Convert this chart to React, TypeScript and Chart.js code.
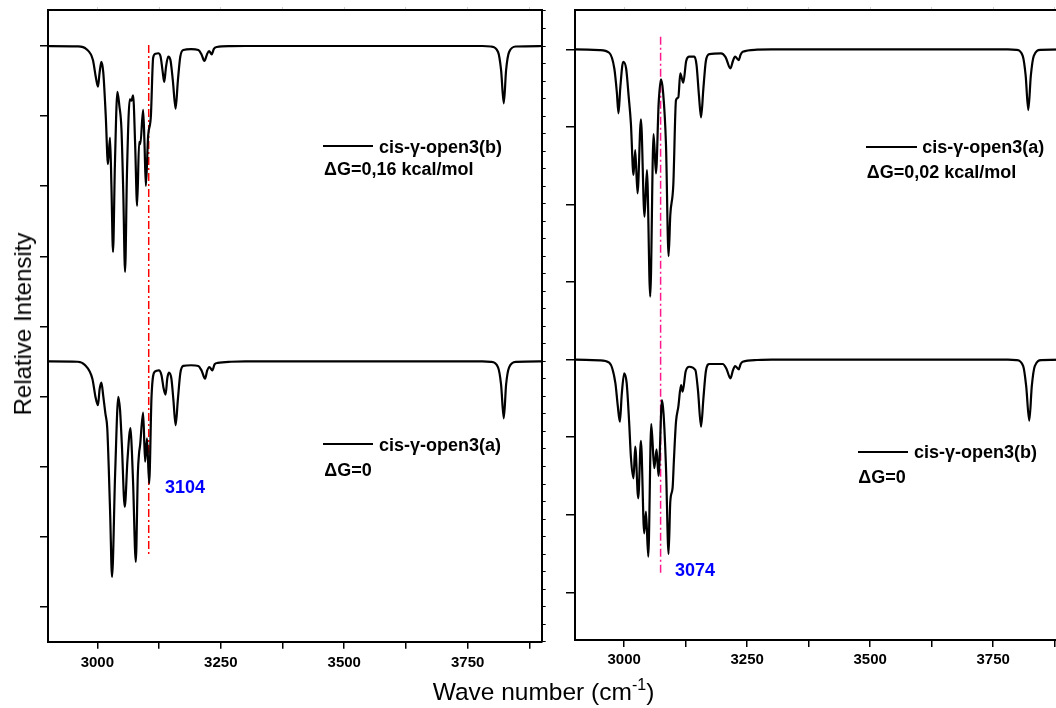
import React, { useEffect, useRef } from 'react';
import { Chart, registerables } from 'chart.js';

Chart.register(...registerables);

const FONT = '"Liberation Sans", Arial, Helvetica, sans-serif';

// ---------- axes ----------
const xMin = 2900;
const xMax = 3900;
const xTickValues = [3000, 3125, 3250, 3375, 3500, 3625, 3750, 3875];
const xTickLabels = [3000, 3250, 3500, 3750];

const leftYMin = -0.5;
const leftYMax = 8.514;
const leftYTicks = [0, 1, 2, 3, 4, 5, 6, 7, 8];
const leftYMinorTicks = [
  -0.5, -0.25, 0, 0.25, 0.5, 0.75, 1, 1.25, 1.5, 1.75, 2, 2.25, 2.5, 2.75, 3, 3.25, 3.5, 3.75,
  4, 4.25, 4.5, 4.75, 5, 5.25, 5.5, 5.75, 6, 6.25, 6.5, 6.75, 7, 7.25, 7.5, 7.75, 8, 8.25, 8.5,
];

const rightYMin = 0.385;
const rightYMax = 8.507;
const rightYTicks = [1, 2, 3, 4, 5, 6, 7, 8];

// ---------- spectra: [wave number, relative intensity] ----------
const leftTop = [
  [2900, 8.0], [2960, 7.995], [2978, 7.955], [2991, 7.8], [2997, 7.55], [3001.2, 7.42],
  [3004.5, 7.62], [3008.1, 7.773], [3012, 7.62], [3017, 7.0], [3021.5, 6.313], [3025.6, 6.692],
  [3028.5, 6.0], [3031.7, 5.061], [3035.5, 6.3], [3040.6, 7.345], [3044.5, 7.15], [3048.8, 6.812],
  [3052.5, 5.9], [3056.1, 4.776], [3060, 6.2], [3065.6, 7.24], [3069, 7.22], [3072.4, 7.297],
  [3076.5, 6.6], [3080.5, 5.718], [3084.6, 6.631], [3087, 6.6], [3092.7, 7.088], [3095.5, 6.6],
  [3098.2, 6.003], [3102.8, 6.717], [3108.3, 6.99], [3113, 7.834], [3118, 7.89], [3123.2, 7.897],
  [3128, 7.85], [3132, 7.65], [3135.4, 7.487], [3139, 7.7], [3143.5, 7.848], [3148, 7.8],
  [3153, 7.5], [3158.5, 7.106], [3163, 7.5], [3168, 7.85], [3174, 7.944], [3190, 7.955],
  [3204.5, 7.944], [3211, 7.88], [3216.7, 7.787], [3222, 7.88], [3226.2, 7.929], [3231.7, 7.882],
  [3236, 7.96], [3241.9, 7.986], [3270, 7.998], [3300, 8.0], [3780, 8.0], [3797, 7.993],
  [3811.6, 7.915], [3817.7, 7.658], [3823.2, 7.183], [3827.9, 7.658], [3834, 7.915],
  [3848, 7.993], [3900, 8.0],
];

const leftBottom = [
  [2900, 3.5], [2960, 3.495], [2974.2, 3.453], [2990, 3.25], [2996, 3.0], [3001.2, 2.874],
  [3004.5, 3.1], [3008.1, 3.196], [3012, 3.0], [3016.3, 2.754], [3020, 2.55], [3023, 1.993],
  [3026, 1.3], [3029.7, 0.424], [3036, 1.9], [3042.5, 2.995], [3046, 2.8], [3049.5, 2.33],
  [3055.5, 1.425], [3061, 2.1], [3067.1, 2.548], [3070, 2.2], [3072.4, 1.76], [3077.8, 0.64],
  [3082, 1.9], [3084.6, 2.2], [3086.5, 2.3], [3092.7, 2.77], [3096.7, 2.068], [3100.5, 2.4],
  [3104.9, 1.76], [3109.7, 2.997], [3116.4, 3.354], [3124.6, 3.373], [3130, 3.3], [3134, 3.12],
  [3138.2, 3.025], [3141.5, 3.25], [3144.9, 3.339], [3150, 3.25], [3154, 2.95], [3158.5, 2.588],
  [3163, 2.95], [3168, 3.33], [3174, 3.435], [3190, 3.445], [3204.5, 3.435], [3211, 3.37],
  [3218.1, 3.253], [3222.5, 3.37], [3226.8, 3.42], [3232.9, 3.373], [3237.5, 3.46],
  [3243.9, 3.478], [3270, 3.495], [3300, 3.5], [3780, 3.5], [3797, 3.493], [3811.6, 3.415],
  [3817.7, 3.17], [3823.2, 2.688], [3827.9, 3.17], [3834, 3.415], [3848, 3.493], [3900, 3.5],
];

const rightTop = [
  [2900, 8.0], [2950, 7.99], [2969.5, 7.956], [2980, 7.75], [2985, 7.45], [2988.4, 7.175],
  [2992, 7.5], [2998, 7.84], [3004, 7.75], [3009, 7.4], [3013.6, 7.046], [3018.9, 6.38],
  [3022.4, 6.702], [3027.1, 6.144], [3034, 7.098], [3041.3, 5.842], [3046.2, 6.444],
  [3052.9, 4.811], [3059.7, 6.908], [3064.6, 6.401], [3070, 7.3], [3074.7, 7.613], [3079, 7.45],
  [3084.9, 6.78], [3090.2, 5.335], [3093.7, 5.864], [3099.8, 6.25], [3105.3, 7.346],
  [3110, 7.381], [3114, 7.691], [3120.1, 7.57], [3126, 7.85], [3132.4, 7.905], [3142.5, 7.905],
  [3147, 7.8], [3152, 7.4], [3156.2, 7.123], [3161, 7.5], [3166, 7.85], [3173.1, 7.939],
  [3196.9, 7.948], [3206, 7.9], [3215.9, 7.755], [3221, 7.85], [3225.4, 7.905], [3232.8, 7.862],
  [3236.5, 7.93], [3240.9, 7.969], [3270, 7.995], [3300, 8.0], [3780, 8.0], [3797, 7.993],
  [3810, 7.915], [3816, 7.66], [3821.3, 7.217], [3826.5, 7.66], [3832.5, 7.915], [3846, 7.993],
  [3900, 8.0],
];

const rightBottom = [
  [2900, 4.0], [2950, 3.99], [2969.5, 3.96], [2982, 3.7], [2987, 3.4], [2991.2, 3.199],
  [2995, 3.55], [3000, 3.823], [3005, 3.7], [3010, 3.2], [3013.6, 2.748], [3018.9, 2.469],
  [3022.4, 2.877], [3028.5, 2.212], [3034, 2.954], [3040.7, 1.76], [3044.2, 2.039],
  [3048.9, 1.459], [3055, 3.17], [3061.1, 2.599], [3065.8, 2.843], [3069.8, 2.499],
  [3076.8, 3.479], [3080, 3.3], [3084.9, 2.619], [3090.2, 1.494], [3093.7, 2.17],
  [3098.4, 2.35], [3101, 2.7], [3105.3, 3.2], [3110, 3.39], [3115.5, 3.672], [3118.7, 3.586],
  [3125, 3.85], [3132.4, 3.908], [3144.6, 3.866], [3150, 3.6], [3156.2, 3.135], [3161, 3.5],
  [3166, 3.85], [3173.1, 3.943], [3200.2, 3.943], [3208, 3.88], [3215.9, 3.759], [3221, 3.86],
  [3225.4, 3.917], [3232.8, 3.875], [3236.5, 3.94], [3240.9, 3.973], [3270, 3.995], [3300, 4.0],
  [3780, 4.0], [3797, 3.993], [3811, 3.915], [3817, 3.66], [3823.3, 3.212], [3828.5, 3.66],
  [3834.5, 3.915], [3848, 3.993], [3900, 4.0],
];

// marker lines: [wave number, y start, y end]
const leftMarker = [3104, 8.015, 0.738];
const rightMarker = [3074, 8.162, 1.223];

// ---------- helpers ----------
const spectrumDataset = (pts: number[][]) => ({
  data: pts.map(([x, y]) => ({ x, y })),
  borderColor: '#000',
  borderWidth: 2.2,
  pointRadius: 0,
  fill: false,
  cubicInterpolationMode: 'monotone' as const,
});

const markerDataset = (m: number[], color: string) => ({
  data: [
    { x: m[0], y: m[1] },
    { x: m[0], y: m[2] },
  ],
  borderColor: color,
  borderWidth: 1.5,
  borderDash: [8, 3, 2, 3],
  pointRadius: 0,
  fill: false,
});

const tickFont = { family: FONT, size: 15, weight: 'bold' as const };

function buildScales(p: {
  yMin: number;
  yMax: number;
  yTicks: number[];
  yTickLen: number;
  xHeight: number;
  xPad: number;
  yMinor?: number[];
}) {
  const scales: any = {
    x: {
      type: 'linear',
      position: 'bottom',
      min: xMin,
      max: xMax,
      afterBuildTicks: (s: any) => {
        s.ticks = xTickValues.map((v) => ({ value: v }));
      },
      afterFit: (s: any) => {
        s.height = p.xHeight;
      },
      ticks: {
        autoSkip: false,
        maxRotation: 0,
        minRotation: 0,
        padding: p.xPad,
        color: '#000',
        font: tickFont,
        callback: (v: any) => (xTickLabels.includes(Number(v)) ? String(v) : ''),
      },
      grid: { drawOnChartArea: false, drawTicks: true, tickLength: 7, color: '#000', lineWidth: 1.5 },
      border: { display: true, color: '#000', width: 2 },
    },
    xTop: {
      type: 'linear',
      axis: 'x',
      position: 'top',
      min: xMin,
      max: xMax,
      afterBuildTicks: (s: any) => {
        s.ticks = xTickValues.map((v) => ({ value: v }));
      },
      afterFit: (s: any) => {
        s.height = 3;
      },
      ticks: { display: false },
      grid: { drawOnChartArea: false, drawTicks: true, tickLength: 3, color: '#d0d0d0', lineWidth: 1 },
      border: { display: true, color: '#000', width: 2 },
    },
    y: {
      type: 'linear',
      position: 'left',
      min: p.yMin,
      max: p.yMax,
      afterBuildTicks: (s: any) => {
        s.ticks = p.yTicks.map((v) => ({ value: v }));
      },
      afterFit: (s: any) => {
        s.width = p.yTickLen;
      },
      ticks: { display: false },
      grid: { drawOnChartArea: false, drawTicks: true, tickLength: p.yTickLen, color: '#000', lineWidth: 1.5 },
      border: { display: true, color: '#000', width: 2 },
    },
  };
  if (p.yMinor) {
    const minor = p.yMinor;
    scales.yR = {
      type: 'linear',
      axis: 'y',
      position: 'right',
      min: p.yMin,
      max: p.yMax,
      afterBuildTicks: (s: any) => {
        s.ticks = minor.map((v) => ({ value: v }));
      },
      afterFit: (s: any) => {
        s.width = 4;
      },
      ticks: { display: false },
      grid: { drawOnChartArea: false, drawTicks: true, tickLength: 4, color: '#000', lineWidth: 1 },
      border: { display: true, color: '#000', width: 2 },
    };
  }
  return scales;
}

const baseOptions = {
  animation: false as const,
  responsive: false,
  maintainAspectRatio: false,
  devicePixelRatio: 1,
  events: [] as any[],
  plugins: { legend: { display: false }, tooltip: { enabled: false }, title: { display: false } },
};

function Label(props: {
  text: React.ReactNode;
  left: number;
  baseline: number;
  size: number;
  bold?: boolean;
  color?: string;
}) {
  const { text, left, baseline, size, bold = true, color = '#000' } = props;
  return (
    <div
      style={{
        position: 'absolute',
        left,
        top: baseline - 0.8465 * size,
        fontSize: size,
        lineHeight: `${size}px`,
        fontWeight: bold ? 'bold' : 'normal',
        whiteSpace: 'nowrap',
        color,
        fontFamily: FONT,
      }}
    >
      {text}
    </div>
  );
}

function Sample(props: { x1: number; x2: number; y: number }) {
  return (
    <div
      style={{
        position: 'absolute',
        left: props.x1,
        top: props.y - 1,
        width: props.x2 - props.x1,
        height: 2,
        background: '#000',
      }}
    />
  );
}

export default function App() {
  const leftRef = useRef<HTMLCanvasElement>(null);
  const rightRef = useRef<HTMLCanvasElement>(null);

  useEffect(() => {
    const charts: Chart[] = [];
    if (leftRef.current) {
      charts.push(
        new Chart(leftRef.current, {
          type: 'line',
          data: {
            datasets: [
              spectrumDataset(leftTop),
              spectrumDataset(leftBottom),
              markerDataset(leftMarker, '#ff0000'),
            ] as any,
          },
          options: {
            ...baseOptions,
            layout: { padding: { left: 40, right: 14.3, top: 7, bottom: 0 } },
            scales: buildScales({
              yMin: leftYMin,
              yMax: leftYMax,
              yTicks: leftYTicks,
              yTickLen: 8,
              xHeight: 66.3,
              xPad: 5,
              yMinor: leftYMinorTicks,
            }),
          } as any,
        })
      );
    }
    if (rightRef.current) {
      charts.push(
        new Chart(rightRef.current, {
          type: 'line',
          data: {
            datasets: [
              spectrumDataset(rightTop),
              spectrumDataset(rightBottom),
              markerDataset(rightMarker, '#ff1a8c'),
            ] as any,
          },
          options: {
            ...baseOptions,
            layout: { padding: { left: 26, right: 13, top: 7, bottom: 0 } },
            scales: buildScales({
              yMin: rightYMin,
              yMax: rightYMax,
              yTicks: rightYTicks,
              yTickLen: 9,
              xHeight: 68,
              xPad: 4,
            }),
          } as any,
        })
      );
    }
    return () => charts.forEach((c) => c.destroy());
  }, []);

  return (
    <div
      style={{
        position: 'fixed',
        left: 0,
        top: 0,
        width: 1056,
        height: 708,
        overflow: 'hidden',
        background: '#fff',
        fontFamily: FONT,
      }}
    >
      <canvas
        ref={leftRef}
        width={560}
        height={708}
        style={{ position: 'absolute', left: 0, top: 0, width: 560, height: 708 }}
      />
      <canvas
        ref={rightRef}
        width={540}
        height={708}
        style={{ position: 'absolute', left: 540, top: 0, width: 540, height: 708 }}
      />

      {/* left panel legends */}
      <Sample x1={322.7} x2={373.3} y={145.5} />
      <Label text="cis-γ-open3(b)" left={379} baseline={153} size={18} />
      <Label text="ΔG=0,16 kcal/mol" left={324} baseline={175} size={18} />
      <Sample x1={323.3} x2={372.7} y={444} />
      <Label text="cis-γ-open3(a)" left={379} baseline={451.5} size={18} />
      <Label text="ΔG=0" left={324.3} baseline={476} size={18} />
      <Label text="3104" left={165} baseline={493} size={18} color="#0000ff" />

      {/* right panel legends */}
      <Sample x1={866} x2={916.7} y={146.7} />
      <Label text="cis-γ-open3(a)" left={922.3} baseline={153.5} size={18} />
      <Label text="ΔG=0,02 kcal/mol" left={866.7} baseline={178} size={18} />
      <Sample x1={858.3} x2={908.3} y={451.7} />
      <Label text="cis-γ-open3(b)" left={914} baseline={458.5} size={18} />
      <Label text="ΔG=0" left={858.3} baseline={483} size={18} />
      <Label text="3074" left={675} baseline={576} size={18} color="#0000ff" />

      {/* axis titles */}
      <Label
        text={
          <span>
            Wave number (cm
            <span style={{ fontSize: 16, position: 'relative', top: -10 }}>-1</span>)
          </span>
        }
        left={432.7}
        baseline={700.7}
        size={24.5}
        bold={false}
      />
      <div
        style={{
          position: 'absolute',
          left: 23,
          top: 324,
          transform: 'translate(-50%, -50%) rotate(-90deg)',
          fontSize: 24,
          lineHeight: '24px',
          whiteSpace: 'nowrap',
          fontFamily: FONT,
          color: '#000',
        }}
      >
        Relative Intensity
      </div>
    </div>
  );
}
